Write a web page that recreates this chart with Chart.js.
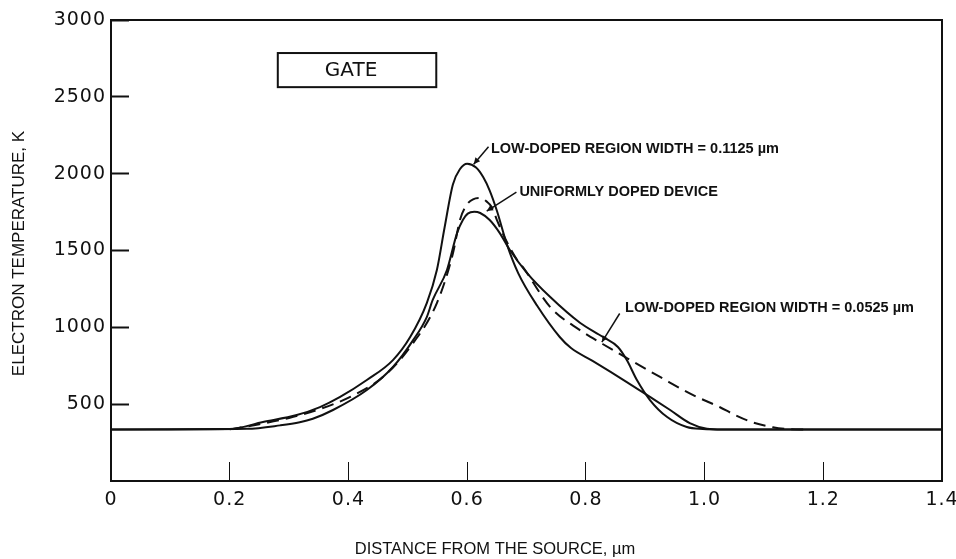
<!DOCTYPE html>
<html>
<head>
<meta charset="utf-8">
<title>Electron temperature along the channel</title>
<script src="https://cdn.jsdelivr.net/npm/chart.js@4.4.1/dist/chart.umd.min.js"></script>
<style>
  html, body { margin: 0; padding: 0; background: #fff; }
  #wrap { width: 956px; height: 559px; }
</style>
</head>
<body>
<div id="wrap"><canvas id="tempChart" width="956" height="559"></canvas></div>
<script>
// Electron temperature (K) vs distance from the source (um)

// low-doped region width = 0.1125 um
const xWide = [0, 0.20, 0.256, 0.313, 0.352, 0.386, 0.431, 0.475, 0.504, 0.532, 0.549, 0.562, 0.576, 0.588, 0.600, 0.615, 0.627, 0.638, 0.650, 0.667, 0.686, 0.718, 0.756, 0.775, 0.812, 0.869, 0.908, 0.942, 0.975, 1.004, 1.03, 1.4];
const tWide = [335, 338, 384, 429, 481, 547, 657, 787, 937, 1158, 1373, 1650, 1930, 2030, 2065, 2040, 1978, 1890, 1760, 1540, 1353, 1140, 937, 865, 780, 644, 547, 462, 377, 340, 335, 335];

// uniformly doped device
const xUniform = [0, 0.229, 0.285, 0.318, 0.340, 0.374, 0.431, 0.475, 0.509, 0.532, 0.542, 0.566, 0.583, 0.593, 0.601, 0.612, 0.622, 0.638, 0.655, 0.672, 0.701, 0.740, 0.790, 0.829, 0.854, 0.869, 0.886, 0.908, 0.937, 0.970, 0.997, 1.03, 1.4];
const tUniform = [335, 340, 362, 382, 405, 462, 592, 742, 917, 1067, 1178, 1373, 1613, 1700, 1740, 1752, 1744, 1698, 1613, 1503, 1353, 1197, 1030, 937, 872, 787, 657, 527, 416, 351, 338, 335, 335];

// low-doped region width = 0.0525 um
const xNarrow = [0.20, 0.25, 0.30, 0.347, 0.403, 0.458, 0.504, 0.549, 0.576, 0.588, 0.600, 0.610, 0.622, 0.633, 0.642, 0.650, 0.667, 0.684, 0.694, 0.740, 0.790, 0.829, 0.869, 0.925, 0.980, 1.026, 1.050, 1.082, 1.115, 1.144, 1.17];
const tNarrow = [336, 370, 410, 462, 547, 677, 872, 1158, 1480, 1700, 1800, 1833, 1841, 1818, 1780, 1700, 1555, 1440, 1392, 1132, 982, 890, 800, 677, 560, 480, 432, 380, 350, 337, 335];

const xTicks = [0, 0.2, 0.4, 0.6, 0.8, 1.0, 1.2, 1.4];
const yTicks = [500, 1000, 1500, 2000, 2500, 3000];

const INK = '#111';
const tickFont = { family: 'DejaVu Sans', size: 19 };
const noteFont = 'bold 14.5px "Liberation Sans", Arial, sans-serif';

function pts(xs, ys) {
  return xs.map((x, i) => ({ x: x, y: ys[i] }));
}

// callouts in data units: text anchor, leader start, leader tip
const notes = [
  { text: 'LOW-DOPED REGION WIDTH = 0.1125 \u00b5m', at: [0.640, 2160], from: [0.636, 2175], to: [0.611, 2062] },
  { text: 'UNIFORMLY DOPED DEVICE', at: [0.688, 1880], from: [0.683, 1880], to: [0.633, 1757] },
  { text: 'LOW-DOPED REGION WIDTH = 0.0525 \u00b5m', at: [0.866, 1126], from: [0.857, 1090], to: [0.827, 904] }
];
const gateBox = { x0: 0.281, x1: 0.548, y0: 2785, y1: 2563, label: 'GATE' };

function arrowHead(ctx, x0, y0, x1, y1) {
  const a = Math.atan2(y1 - y0, x1 - x0);
  const len = 7, w = 0.45;
  ctx.beginPath();
  ctx.moveTo(x1, y1);
  ctx.lineTo(x1 - len * Math.cos(a - w), y1 - len * Math.sin(a - w));
  ctx.lineTo(x1 - len * Math.cos(a + w), y1 - len * Math.sin(a + w));
  ctx.closePath();
  ctx.fill();
}

// slightly wider lettering for the tick numbers only
const tickSpacing = {
  id: 'tickSpacing',
  beforeDraw(chart) { chart.ctx.letterSpacing = '1px'; },
  beforeDatasetsDraw(chart) { chart.ctx.letterSpacing = '0px'; }
};

const decor = {
  id: 'decor',
  afterDraw(chart) {
    const { ctx, chartArea: ca, scales: { x, y } } = chart;
    ctx.save();
    ctx.letterSpacing = '0px';
    ctx.strokeStyle = INK;
    ctx.fillStyle = INK;

    // frame round the plot
    ctx.lineWidth = 2;
    ctx.strokeRect(ca.left, ca.top, ca.right - ca.left, ca.bottom - ca.top);

    // gate box
    const gx0 = x.getPixelForValue(gateBox.x0), gx1 = x.getPixelForValue(gateBox.x1);
    const gy0 = y.getPixelForValue(gateBox.y0), gy1 = y.getPixelForValue(gateBox.y1);
    ctx.strokeRect(gx0, gy0, gx1 - gx0, gy1 - gy0);
    ctx.font = '20px "DejaVu Sans", sans-serif';
    ctx.textAlign = 'center';
    ctx.textBaseline = 'middle';
    ctx.fillText(gateBox.label, (gx0 + gx1) / 2 - 6, (gy0 + gy1) / 2 + 1);

    // callouts
    ctx.lineWidth = 1.5;
    ctx.font = noteFont;
    ctx.textAlign = 'left';
    notes.forEach(n => {
      const fx = x.getPixelForValue(n.from[0]), fy = y.getPixelForValue(n.from[1]);
      const tx = x.getPixelForValue(n.to[0]), ty = y.getPixelForValue(n.to[1]);
      ctx.beginPath();
      ctx.moveTo(fx, fy);
      ctx.lineTo(tx, ty);
      ctx.stroke();
      arrowHead(ctx, fx, fy, tx, ty);
      ctx.fillText(n.text, x.getPixelForValue(n.at[0]), y.getPixelForValue(n.at[1]));
    });

    // axis titles
    ctx.textAlign = 'center';
    ctx.font = '16.5px "Liberation Sans", Arial, sans-serif';
    ctx.fillText('DISTANCE FROM THE SOURCE, \u00b5m', 495, 549);
    ctx.font = '17px "Liberation Sans", Arial, sans-serif';
    ctx.translate(19, (ca.top + ca.bottom) / 2 + 3);
    ctx.rotate(-Math.PI / 2);
    ctx.fillText('ELECTRON TEMPERATURE, K', 0, 0);
    ctx.restore();
  }
};

const lineStyle = {
  borderColor: INK,
  borderWidth: 2,
  pointRadius: 0,
  fill: false,
  cubicInterpolationMode: 'monotone'
};

new Chart(document.getElementById('tempChart').getContext('2d'), {
  type: 'line',
  data: {
    datasets: [
      Object.assign({ label: 'Low-doped region width = 0.1125 \u00b5m', data: pts(xWide, tWide) }, lineStyle),
      Object.assign({ label: 'Uniformly doped device', data: pts(xUniform, tUniform) }, lineStyle),
      Object.assign({ label: 'Low-doped region width = 0.0525 \u00b5m', data: pts(xNarrow, tNarrow), borderDash: [12, 7] }, lineStyle)
    ]
  },
  options: {
    responsive: false,
    animation: false,
    devicePixelRatio: 1,
    layout: { autoPadding: false, padding: { top: 20, right: 14, left: 0, bottom: 0 } },
    plugins: { legend: { display: false }, tooltip: { enabled: false } },
    scales: {
      x: {
        type: 'linear',
        min: 0,
        max: 1.4,
        afterFit: s => { s.height = 78; s.paddingLeft = 0; s.paddingRight = 0; },
        afterBuildTicks: s => { s.ticks = xTicks.map(v => ({ value: v })); },
        border: { display: false },
        grid: { drawOnChartArea: false, tickLength: -19, tickWidth: 1, tickColor: INK },
        ticks: {
          color: INK,
          font: tickFont,
          padding: 27,
          maxRotation: 0,
          callback: v => (v === 0 ? '0' : v.toFixed(1))
        }
      },
      y: {
        min: 0,
        max: 3000,
        afterFit: s => { s.width = 111; s.paddingTop = 0; s.paddingBottom = 0; },
        afterBuildTicks: s => { s.ticks = yTicks.map(v => ({ value: v })); },
        border: { display: false },
        grid: { drawOnChartArea: false, tickLength: -18, tickWidth: 2, tickColor: INK },
        ticks: { color: INK, font: tickFont, padding: 23, callback: v => String(v) }
      }
    }
  },
  plugins: [tickSpacing, decor]
});
</script>
</body>
</html>
